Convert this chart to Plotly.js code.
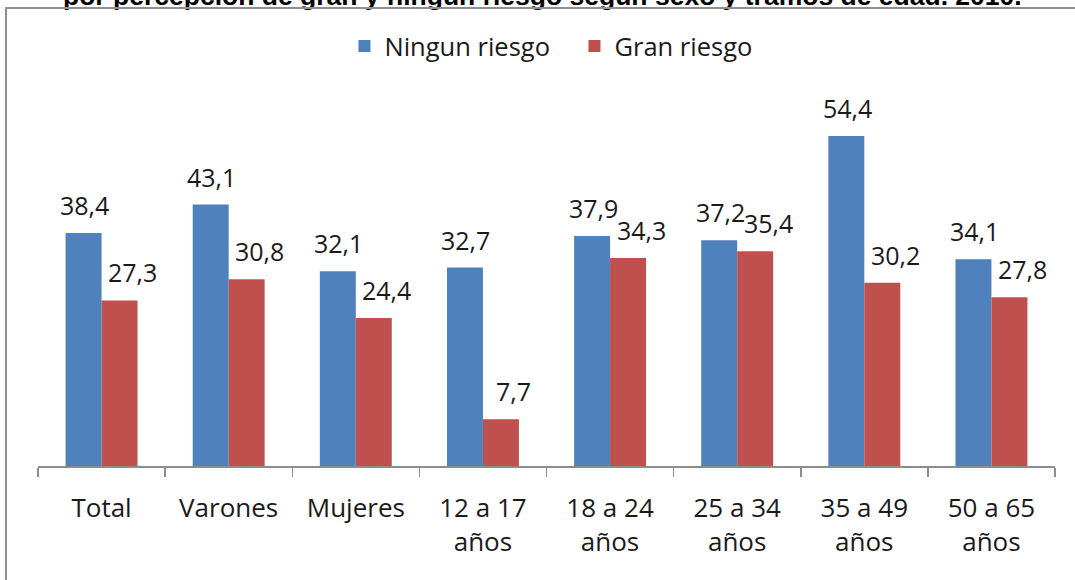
<!DOCTYPE html>
<html>
<head>
<meta charset="utf-8">
<script src="https://cdn.plot.ly/plotly-3.0.1.min.js"></script>
<style>
  html, body { margin: 0; padding: 0; background: #fff; overflow: hidden; }
  #wrap { position: relative; width: 1075px; height: 580px; }
  #chart { position: absolute; left: 0; top: 0; width: 1075px; height: 580px; }
  #frame { position: absolute; left: 5px; top: 7px; width: 1200px; height: 700px;
           border-left: 2px solid #8f8f8f; border-top: 2px solid #8f8f8f; pointer-events: none; }
</style>
</head>
<body>
<div id="wrap">
  <div id="chart"></div>
  <div id="frame"></div>
</div>
<script>
const categories = ["Total", "Varones", "Mujeres", "12 a 17<br>años", "18 a 24<br>años",
                    "25 a 34<br>años", "35 a 49<br>años", "50 a 65<br>años"];
const ningunRiesgo = [38.4, 43.1, 32.1, 32.7, 37.9, 37.2, 54.4, 34.1];
const granRiesgo   = [27.3, 30.8, 24.4, 7.7, 34.3, 35.4, 30.2, 27.8];
const seriesNames = ["Ningun riesgo", "Gran riesgo"];
const titleText = "por percepción de gran y ningún riesgo según sexo y tramos de edad. 2010.";

const BLUE = "#4F81BD", RED = "#C0504D";
const FONT = "Open Sans, Noto Sans, sans-serif";

function fmt(v) { return v.toFixed(1).replace(".", ","); }

const traces = [
  { type: "bar", name: seriesNames[0], x: categories, y: ningunRiesgo,
    marker: { color: BLUE }, hoverinfo: "skip" },
  { type: "bar", name: seriesNames[1], x: categories, y: granRiesgo,
    marker: { color: RED }, hoverinfo: "skip" }
];

const annotations = [];
categories.forEach((c, i) => {
  annotations.push({ x: c, y: ningunRiesgo[i], xref: "x", yref: "y", text: fmt(ningunRiesgo[i]),
    showarrow: false, xshift: -17, yshift: 9, yanchor: "bottom",
    font: { family: FONT, size: 25, color: "#1a1a1a" } });
  annotations.push({ x: c, y: granRiesgo[i], xref: "x", yref: "y", text: fmt(granRiesgo[i]),
    showarrow: false, xshift: 31, yshift: 9, yanchor: "bottom",
    font: { family: FONT, size: 25, color: "#1a1a1a" } });
});
annotations.push({ x: 0.496, y: 1.2445, xref: "paper", yref: "paper", text: "<b>" + titleText + "</b>",
  showarrow: false, xanchor: "center", yanchor: "bottom",
  font: { family: "Liberation Sans, Arial, sans-serif", size: 26.5, color: "#000" } });

const layout = {
  width: 1075, height: 580,
  margin: { l: 38, r: 20, t: 102, b: 114 },
  paper_bgcolor: "#fff", plot_bgcolor: "#fff",
  barmode: "group", bargap: 0.434, bargroupgap: 0,
  showlegend: true,
  legend: { orientation: "h", x: 0.5275, xanchor: "center", y: 1.153, yanchor: "middle",
    font: { family: FONT, size: 25.5, color: "#1a1a1a" }, entrywidth: 185, traceorder: "normal" },
  xaxis: { type: "category", showline: true, linecolor: "#8c8c8c", linewidth: 1.5,
    ticks: "outside", tickson: "boundaries", ticklen: 9, tickcolor: "#8c8c8c", tickwidth: 1.5,
    showgrid: false, zeroline: false, ticklabelstandoff: 18,
    tickfont: { family: FONT, size: 26, color: "#1a1a1a" } },
  yaxis: { range: [0, 60], visible: false, showgrid: false, zeroline: false },
  annotations: annotations
};

Plotly.newPlot("chart", traces, layout, { displayModeBar: false, staticPlot: true });
</script>
</body>
</html>
